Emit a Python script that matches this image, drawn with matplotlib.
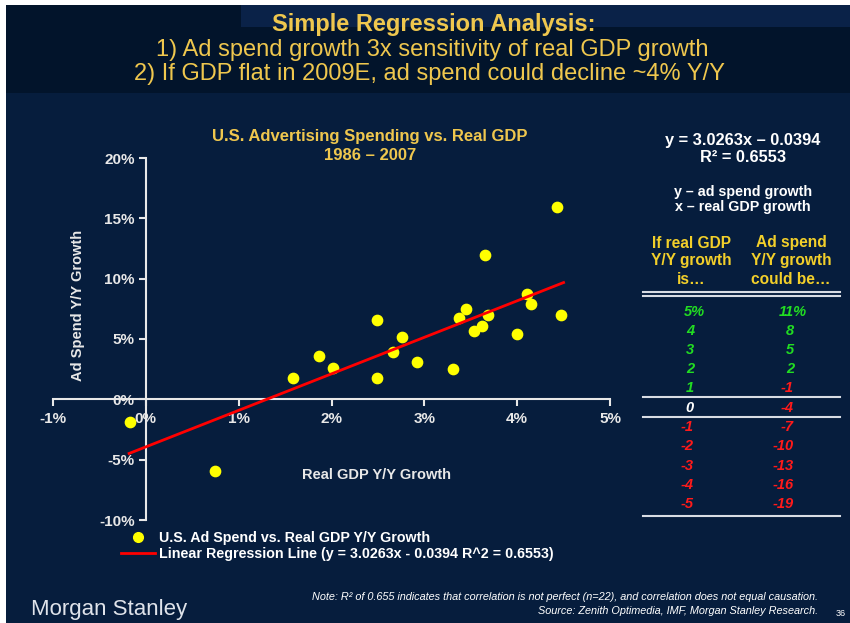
import matplotlib
matplotlib.use("Agg")
from matplotlib import pyplot as plt
from matplotlib.patches import Rectangle
from matplotlib.lines import Line2D

plt.rcParams['font.family'] = ['Liberation Sans', 'DejaVu Sans']

# scatter data, % Y/Y, 1986 - 2007
gdp_growth = [-0.17, 0.74, 1.58, 1.86, 2.02, 2.49, 2.49, 2.66, 2.76, 2.92, 3.31,
              3.37, 3.45, 3.53, 3.62, 3.65, 3.69, 4.00, 4.11, 4.15, 4.43, 4.47]
ad_growth = [-1.9, -5.9, 1.8, 3.6, 2.6, 6.6, 1.8, 3.9, 5.2, 3.1, 2.5,
             6.7, 7.5, 5.7, 6.1, 12.0, 7.0, 5.4, 8.7, 7.9, 15.9, 7.0]

slope = 3.0263
intercept = -0.0394
r_squared = 0.6553
line_x = [-0.18, 4.5]

x_ticks = [-1, 0, 1, 2, 3, 4, 5]
y_ticks = [-10, -5, 0, 5, 10, 15, 20]

table_gdp = [5, 4, 3, 2, 1, 0, -1, -2, -3, -4, -5]
table_ad = [11, 8, 5, 2, -1, -4, -7, -10, -13, -16, -19]

W, H = 850, 623
BG = '#061d3d'
DARK = '#02142b'
GOLD = '#efc74e'
GREEN = '#22dd22'
RED = '#ff1a1a'


def P(x, y):
    # pixel position (from top-left) -> figure fraction
    return x / W, 1 - y / H


fig = plt.figure(figsize=(W / 100, H / 100), dpi=100, facecolor='white')

# background panels
fig.patches.append(Rectangle(P(6, 623), 844 / W, 618 / H, transform=fig.transFigure,
                             facecolor=BG, edgecolor='none', zorder=-3))
fig.patches.append(Rectangle(P(6, 93), 235 / W, 88 / H, transform=fig.transFigure,
                             facecolor=DARK, edgecolor='none', zorder=-2))
fig.patches.append(Rectangle(P(241, 93), 609 / W, 66 / H, transform=fig.transFigure,
                             facecolor=DARK, edgecolor='none', zorder=-2))
fig.patches.append(Rectangle(P(241, 27), 609 / W, 22 / H, transform=fig.transFigure,
                             facecolor='#0a2248', edgecolor='none', zorder=-2))

# headline
fig.text(*P(434, 25), 'Simple Regression Analysis:', color=GOLD, fontsize=17,
         fontweight='bold', ha='center', va='center')
fig.text(*P(432, 50), '1) Ad spend growth 3x sensitivity of real GDP growth',
         color=GOLD, fontsize=17, ha='center', va='center')
fig.text(*P(429, 74), '2) If GDP flat in 2009E, ad spend could decline ~4% Y/Y',
         color=GOLD, fontsize=17, ha='center', va='center')

# scatter chart
ax = fig.add_axes([53 / W, 1 - 520 / H, 557 / W, 362 / H])
ax.set_facecolor('none')
ax.set_xlim(-1, 5)
ax.set_ylim(-10, 20)

ax.scatter(gdp_growth, ad_growth, s=55, color='#ffff00', zorder=3)
line_y = [slope * x + intercept * 100 for x in line_x]
ax.plot(line_x, line_y, color='#ff0000', lw=2, zorder=4)

for side in ['top', 'right']:
    ax.spines[side].set_visible(False)
for side in ['left', 'bottom']:
    ax.spines[side].set_position(('data', 0))
    ax.spines[side].set_color('#e8e8e8')
    ax.spines[side].set_linewidth(1.5)

ax.set_xticks(x_ticks)
ax.set_xticklabels([f'{t}%' for t in x_ticks])
ax.set_yticks(y_ticks)
ax.set_yticklabels([f'{t}%' for t in y_ticks])
ax.tick_params(colors='#e8e8e8', labelcolor='#e8e8e8', labelsize=11,
               width=1.5, length=5, direction='out')
ax.tick_params(axis='x', pad=4)
ax.tick_params(axis='y', pad=3)
for lab in ax.get_xticklabels() + ax.get_yticklabels():
    lab.set_fontweight('bold')

fig.text(*P(370, 146), 'U.S. Advertising Spending vs. Real GDP\n1986 \u2013 2007',
         color=GOLD, fontsize=12, fontweight='bold', ha='center', va='center',
         linespacing=1.25)
fig.text(*P(377, 475), 'Real GDP Y/Y Growth', color='#e8e8e8', fontsize=10.5,
         fontweight='bold', ha='center', va='center')
fig.text(*P(78, 305), 'Ad Spend Y/Y Growth', color='#e8e8e8', fontsize=10.5,
         fontweight='bold', ha='center', va='center', rotation=90)

handles = [Line2D([], [], ls='none', marker='o', ms=7, color='#ffff00'),
           Line2D([], [], color='#ff0000', lw=2)]
labels = ['U.S. Ad Spend vs. Real GDP Y/Y Growth',
          f'Linear Regression Line (y = {slope}x - {-intercept} R^2 = {r_squared})']
fig.legend(handles, labels, loc='upper left', bbox_to_anchor=P(121, 531),
           frameon=False, labelcolor='white', prop={'weight': 'bold', 'size': 10.3},
           handlelength=2.35, handletextpad=0.3, labelspacing=0.12, borderpad=0,
           borderaxespad=0)

# regression summary and sensitivity table
fig.text(*P(743, 141), 'y = 3.0263x \u2013 0.0394', color='white', fontsize=11.8,
         fontweight='bold', ha='center', va='center')
fig.text(*P(743, 157), f'R\u00b2 = {r_squared}', color='white', fontsize=11.8,
         fontweight='bold', ha='center', va='center')
fig.text(*P(743, 192), 'y \u2013 ad spend growth', color='white', fontsize=10.3,
         fontweight='bold', ha='center', va='center')
fig.text(*P(743, 207), 'x \u2013 real GDP growth', color='white', fontsize=10.3,
         fontweight='bold', ha='center', va='center')

fig.text(*P(691, 261), 'If real GDP\nY/Y growth\nis\u2026', color='#f2cf2a', fontsize=11.2,
         fontweight='bold', ha='center', va='center', linespacing=1.25)
fig.text(*P(791, 261), 'Ad spend\nY/Y growth\ncould be\u2026', color='#f2cf2a', fontsize=11.2,
         fontweight='bold', ha='center', va='center', linespacing=1.25)


def hline(y, lw=1.5, color='#d8dce4'):
    fig.add_artist(Line2D([643 / W, 840 / W], [1 - y / H, 1 - y / H],
                          color=color, lw=lw, transform=fig.transFigure))


hline(292)
hline(296)
hline(397)
hline(416.5)
hline(516)

row_y0, row_step = 311.5, 19.25
for i, (g, a) in enumerate(zip(table_gdp, table_ad)):
    y = row_y0 + i * row_step
    g_col = GREEN if g > 0 else ('white' if g == 0 else RED)
    a_col = GREEN if a > 0 else RED
    style = dict(fontsize=10.5, fontweight='bold', style='italic', va='center')
    if i == 0:
        fig.text(*P(684, y), f'{g}%', color=g_col, ha='left', **style)
        fig.text(*P(779, y), f'{a}%', color=a_col, ha='left', **style)
    else:
        fig.text(*P(694, y), str(g), color=g_col, ha='right', **style)
        fig.text(*P(794, y), str(a), color=a_col, ha='right', **style)

# footer
fig.text(*P(31, 609), 'Morgan Stanley', color='#dfe3ea', fontsize=16,
         ha='left', va='center')
fig.text(*P(818, 597), 'Note: R\u00b2 of 0.655 indicates that correlation is not perfect (n=22), '
         'and correlation does not equal causation.', color='white', fontsize=7.8,
         style='italic', ha='right', va='center')
fig.text(*P(818, 611), 'Source: Zenith Optimedia, IMF, Morgan Stanley Research.',
         color='white', fontsize=7.8, style='italic', ha='right', va='center')
fig.text(*P(841, 614), '36', color='white', fontsize=6.5, ha='center', va='center')

fig.savefig('out.png', dpi=100, facecolor=fig.get_facecolor())
